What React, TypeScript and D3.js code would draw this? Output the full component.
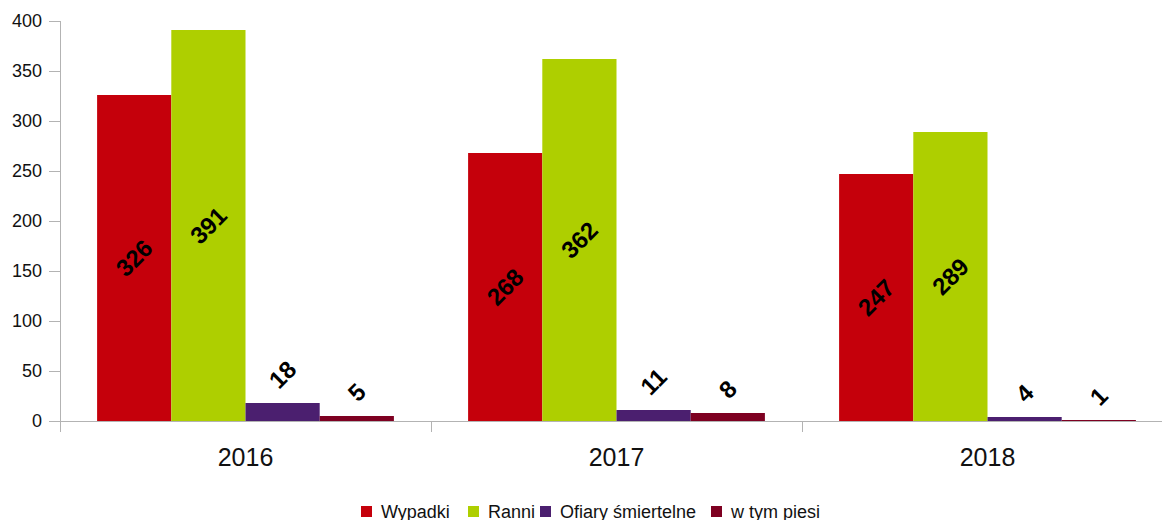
import React from "react";
import * as d3 from "d3";

const years = ["2016", "2017", "2018"];
const seriesNames = ["Wypadki", "Ranni", "Ofiary śmiertelne", "w tym piesi"];
const wypadki = [326, 268, 247];
const ranni = [391, 362, 289];
const ofiary = [18, 11, 4];
const piesi = [5, 8, 1];
const yTicks = [0, 50, 100, 150, 200, 250, 300, 350, 400];
const colors = ["#c5000b", "#aecf00", "#4b1f6f", "#7e0021"];

const seriesValues = [wypadki, ranni, ofiary, piesi];

export default function App() {
  const W = 1162, H = 520;
  const left = 60, right = 1173, top = 21, bottom = 421;
  const x0 = d3.scaleBand().domain(years).range([left, right]).paddingInner(0).paddingOuter(0);
  const x1 = d3.scaleBand().domain(seriesNames).range([0, x0.bandwidth()]).paddingOuter(0.5).paddingInner(0);
  const y = d3.scaleLinear().domain([0, 400]).range([bottom, top]);
  const axisColor = "#b3b3b3";
  const font = "'Liberation Sans', Arial, sans-serif";
  const labelSize = 24;

  const legendItems = [
    { name: "Wypadki", x: 361 },
    { name: "Ranni", x: 468 },
    { name: "Ofiary śmiertelne", x: 540 },
    { name: "w tym piesi", x: 711 },
  ];

  return (
    <div style={{ position: "absolute", left: 0, top: 0 }}>
      <svg width={W} height={H} style={{ display: "block", fontFamily: font }}>
        <rect width={W} height={H} fill="#fff" />
        {yTicks.map((t) => (
          <g key={t}>
            <line x1={49} x2={left} y1={y(t) + 0.5} y2={y(t) + 0.5} stroke={axisColor} strokeWidth={1} />
            <text x={42} y={y(t)} dy="0.35em" textAnchor="end" fontSize={18} fill="#111">
              {t}
            </text>
          </g>
        ))}
        {years.map((yr, i) => (
          <g key={yr} transform={`translate(${x0(yr)},0)`}>
            {seriesNames.map((s, j) => {
              const v = seriesValues[j][i];
              const bx = x1(s)!;
              const bw = x1.bandwidth();
              return (
                <rect key={s} x={bx} y={y(v)} width={bw} height={bottom - y(v)} fill={colors[j]} />
              );
            })}
          </g>
        ))}
        <line x1={left + 0.5} x2={left + 0.5} y1={top} y2={432} stroke={axisColor} strokeWidth={1} />
        <line x1={left} x2={right} y1={bottom + 0.5} y2={bottom + 0.5} stroke={axisColor} strokeWidth={1} />
        {[...years.map((yr) => x0(yr)!), right].map((xx, k) => (
          <line key={k} x1={xx + 0.5} x2={xx + 0.5} y1={bottom} y2={432} stroke={axisColor} strokeWidth={1} />
        ))}
        {years.map((yr, i) => (
          <g key={yr + "l"} transform={`translate(${x0(yr)},0)`}>
            {seriesNames.map((s, j) => {
              const v = seriesValues[j][i];
              const cx = x1(s)! + x1.bandwidth() / 2;
              const label = String(v);
              let cy: number;
              if (bottom - y(v) > 100) {
                cy = (y(v) + bottom) / 2;
              } else {
                const w = 0.556 * labelSize * label.length;
                const half = (w / 2 + 8.5) * Math.SQRT1_2;
                cy = y(v) - 13 - half;
              }
              return (
                <text
                  key={s}
                  transform={`translate(${cx},${cy}) rotate(-45)`}
                  textAnchor="middle"
                  dy="0.35em"
                  fontSize={labelSize}
                  fontWeight="bold"
                  fill="#000"
                >
                  {label}
                </text>
              );
            })}
          </g>
        ))}
        {years.map((yr) => (
          <text key={yr + "x"} x={x0(yr)! + x0.bandwidth() / 2} y={457} dy="0.35em" textAnchor="middle" fontSize={25} fill="#111">
            {yr}
          </text>
        ))}
        {legendItems.map((it, k) => (
          <g key={it.name}>
            <rect x={it.x} y={506} width={11} height={11} fill={colors[k]} />
            <text x={it.x + 20} y={512} dy="0.35em" fontSize={18} fill="#111">
              {it.name}
            </text>
          </g>
        ))}
      </svg>
    </div>
  );
}
